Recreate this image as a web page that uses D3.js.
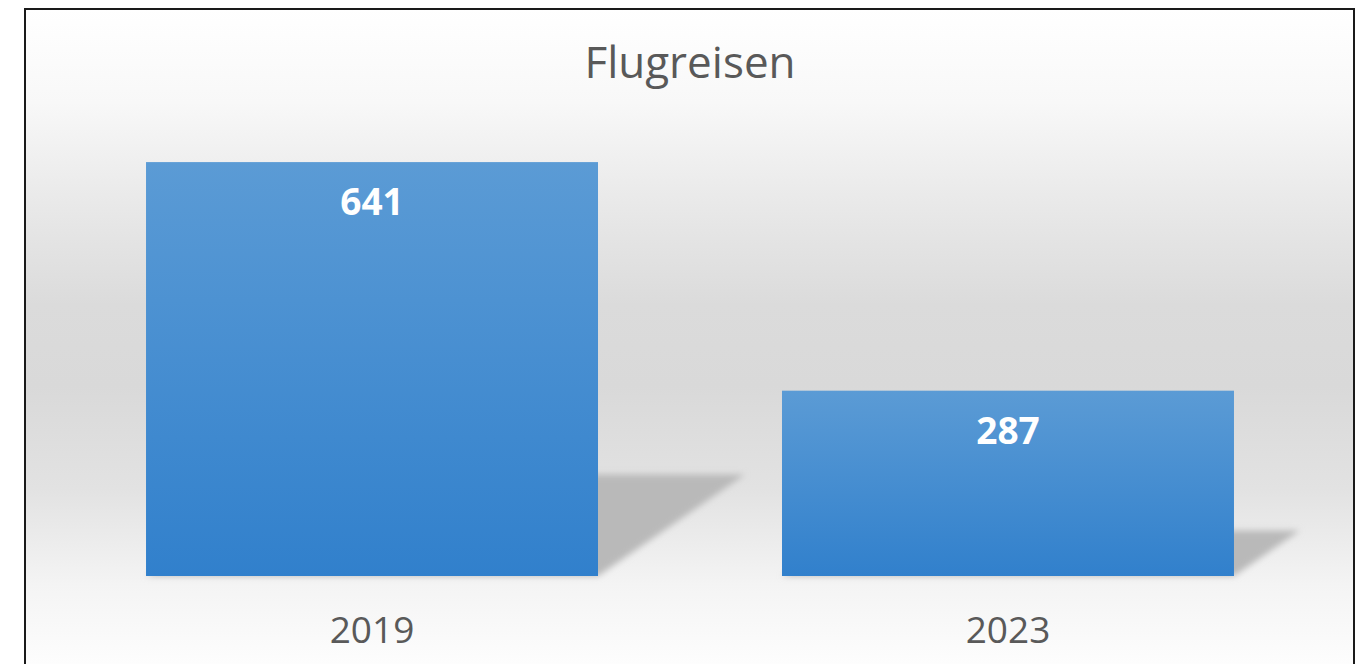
<!DOCTYPE html>
<html><head><meta charset="utf-8">
<script src="https://cdn.jsdelivr.net/npm/d3@7"></script>
<style>html,body{margin:0;padding:0;background:#fff;overflow:hidden}</style>
</head><body>
<svg id="c" width="1361" height="664"></svg>
<script>
const title = "Flugreisen";
const categories = ["2019", "2023"];
const values = [641, 287];
const yMax = 700;

const svg = d3.select("#c");
const W = 1361, H = 664;
const defs = svg.append("defs");

const bg = defs.append("linearGradient").attr("id","bg").attr("x1",0).attr("y1",0).attr("x2",0).attr("y2",1);
[[0,"#ffffff"],[0.14,"#f8f8f8"],[0.29,"#e9e9e9"],[0.445,"#dbdbdb"],[0.567,"#d9d9d9"],[0.72,"#e2e2e2"],[0.866,"#f4f4f4"],[1,"#fefefe"]]
  .forEach(([o,c])=>bg.append("stop").attr("offset",o).attr("stop-color",c));

const bar = defs.append("linearGradient").attr("id","bar").attr("x1",0).attr("y1",0).attr("x2",0).attr("y2",1);
bar.append("stop").attr("offset",0).attr("stop-color","#5b9bd5");
bar.append("stop").attr("offset",1).attr("stop-color","#3180cc");

defs.append("filter").attr("id","blur").attr("x","-20%").attr("y","-20%").attr("width","140%").attr("height","140%")
  .append("feGaussianBlur").attr("stdDeviation",3);

svg.append("rect").attr("x",25).attr("y",9).attr("width",1329).attr("height",H-9+10)
  .attr("fill","url(#bg)").attr("stroke","#1a1a1a").attr("stroke-width",2);

const x = d3.scaleBand().domain(categories).range([54,1326]).paddingInner(0.2893).paddingOuter(0.1447);
const y = d3.scaleLinear().domain([0,yMax]).range([576,124]);

const data = categories.map((c,i)=>({c, v: values[i]}));

// shadows
svg.append("g").selectAll("path").data(data).join("path")
  .attr("d", d => {
    const xl = x(d.c), xr = xl + x.bandwidth(), yb = y(0), h = y(0) - y(d.v);
    const dx = 0.355*h, dy = 0.245*h;
    return `M${xl},${yb} L${xr},${yb} L${xr+dx},${yb-dy} L${xl+dx},${yb-dy} Z`;
  })
  .attr("fill","#b9b9b9").attr("filter","url(#blur)");

svg.append("g").selectAll("rect").data(data).join("rect")
  .attr("x", d=>x(d.c)).attr("y", d=>y(d.v))
  .attr("width", x.bandwidth()).attr("height", d=>y(0)-y(d.v))
  .attr("fill","url(#bar)");

svg.append("g").selectAll("text").data(data).join("text")
  .attr("x", d=>x(d.c)+x.bandwidth()/2).attr("y", d=>y(d.v)+53)
  .attr("text-anchor","middle").attr("font-family","'Open Sans', sans-serif")
  .attr("font-weight","bold").attr("font-size",37).attr("fill","#ffffff")
  .text(d=>d.v);

const ax = svg.append("g").attr("transform",`translate(0,${y(0)})`)
  .call(d3.axisBottom(x).tickSize(0).tickPadding(0));
ax.select(".domain").remove();
ax.selectAll("text").attr("y",67).attr("dy",0)
  .attr("font-family","'Open Sans', sans-serif").attr("font-size",37).attr("fill","#595959");

svg.append("text").attr("x",690).attr("y",78).attr("text-anchor","middle")
  .attr("font-family","'Open Sans', sans-serif").attr("font-size",44).attr("fill","#595959")
  .text(title);
</script>
</body></html>
